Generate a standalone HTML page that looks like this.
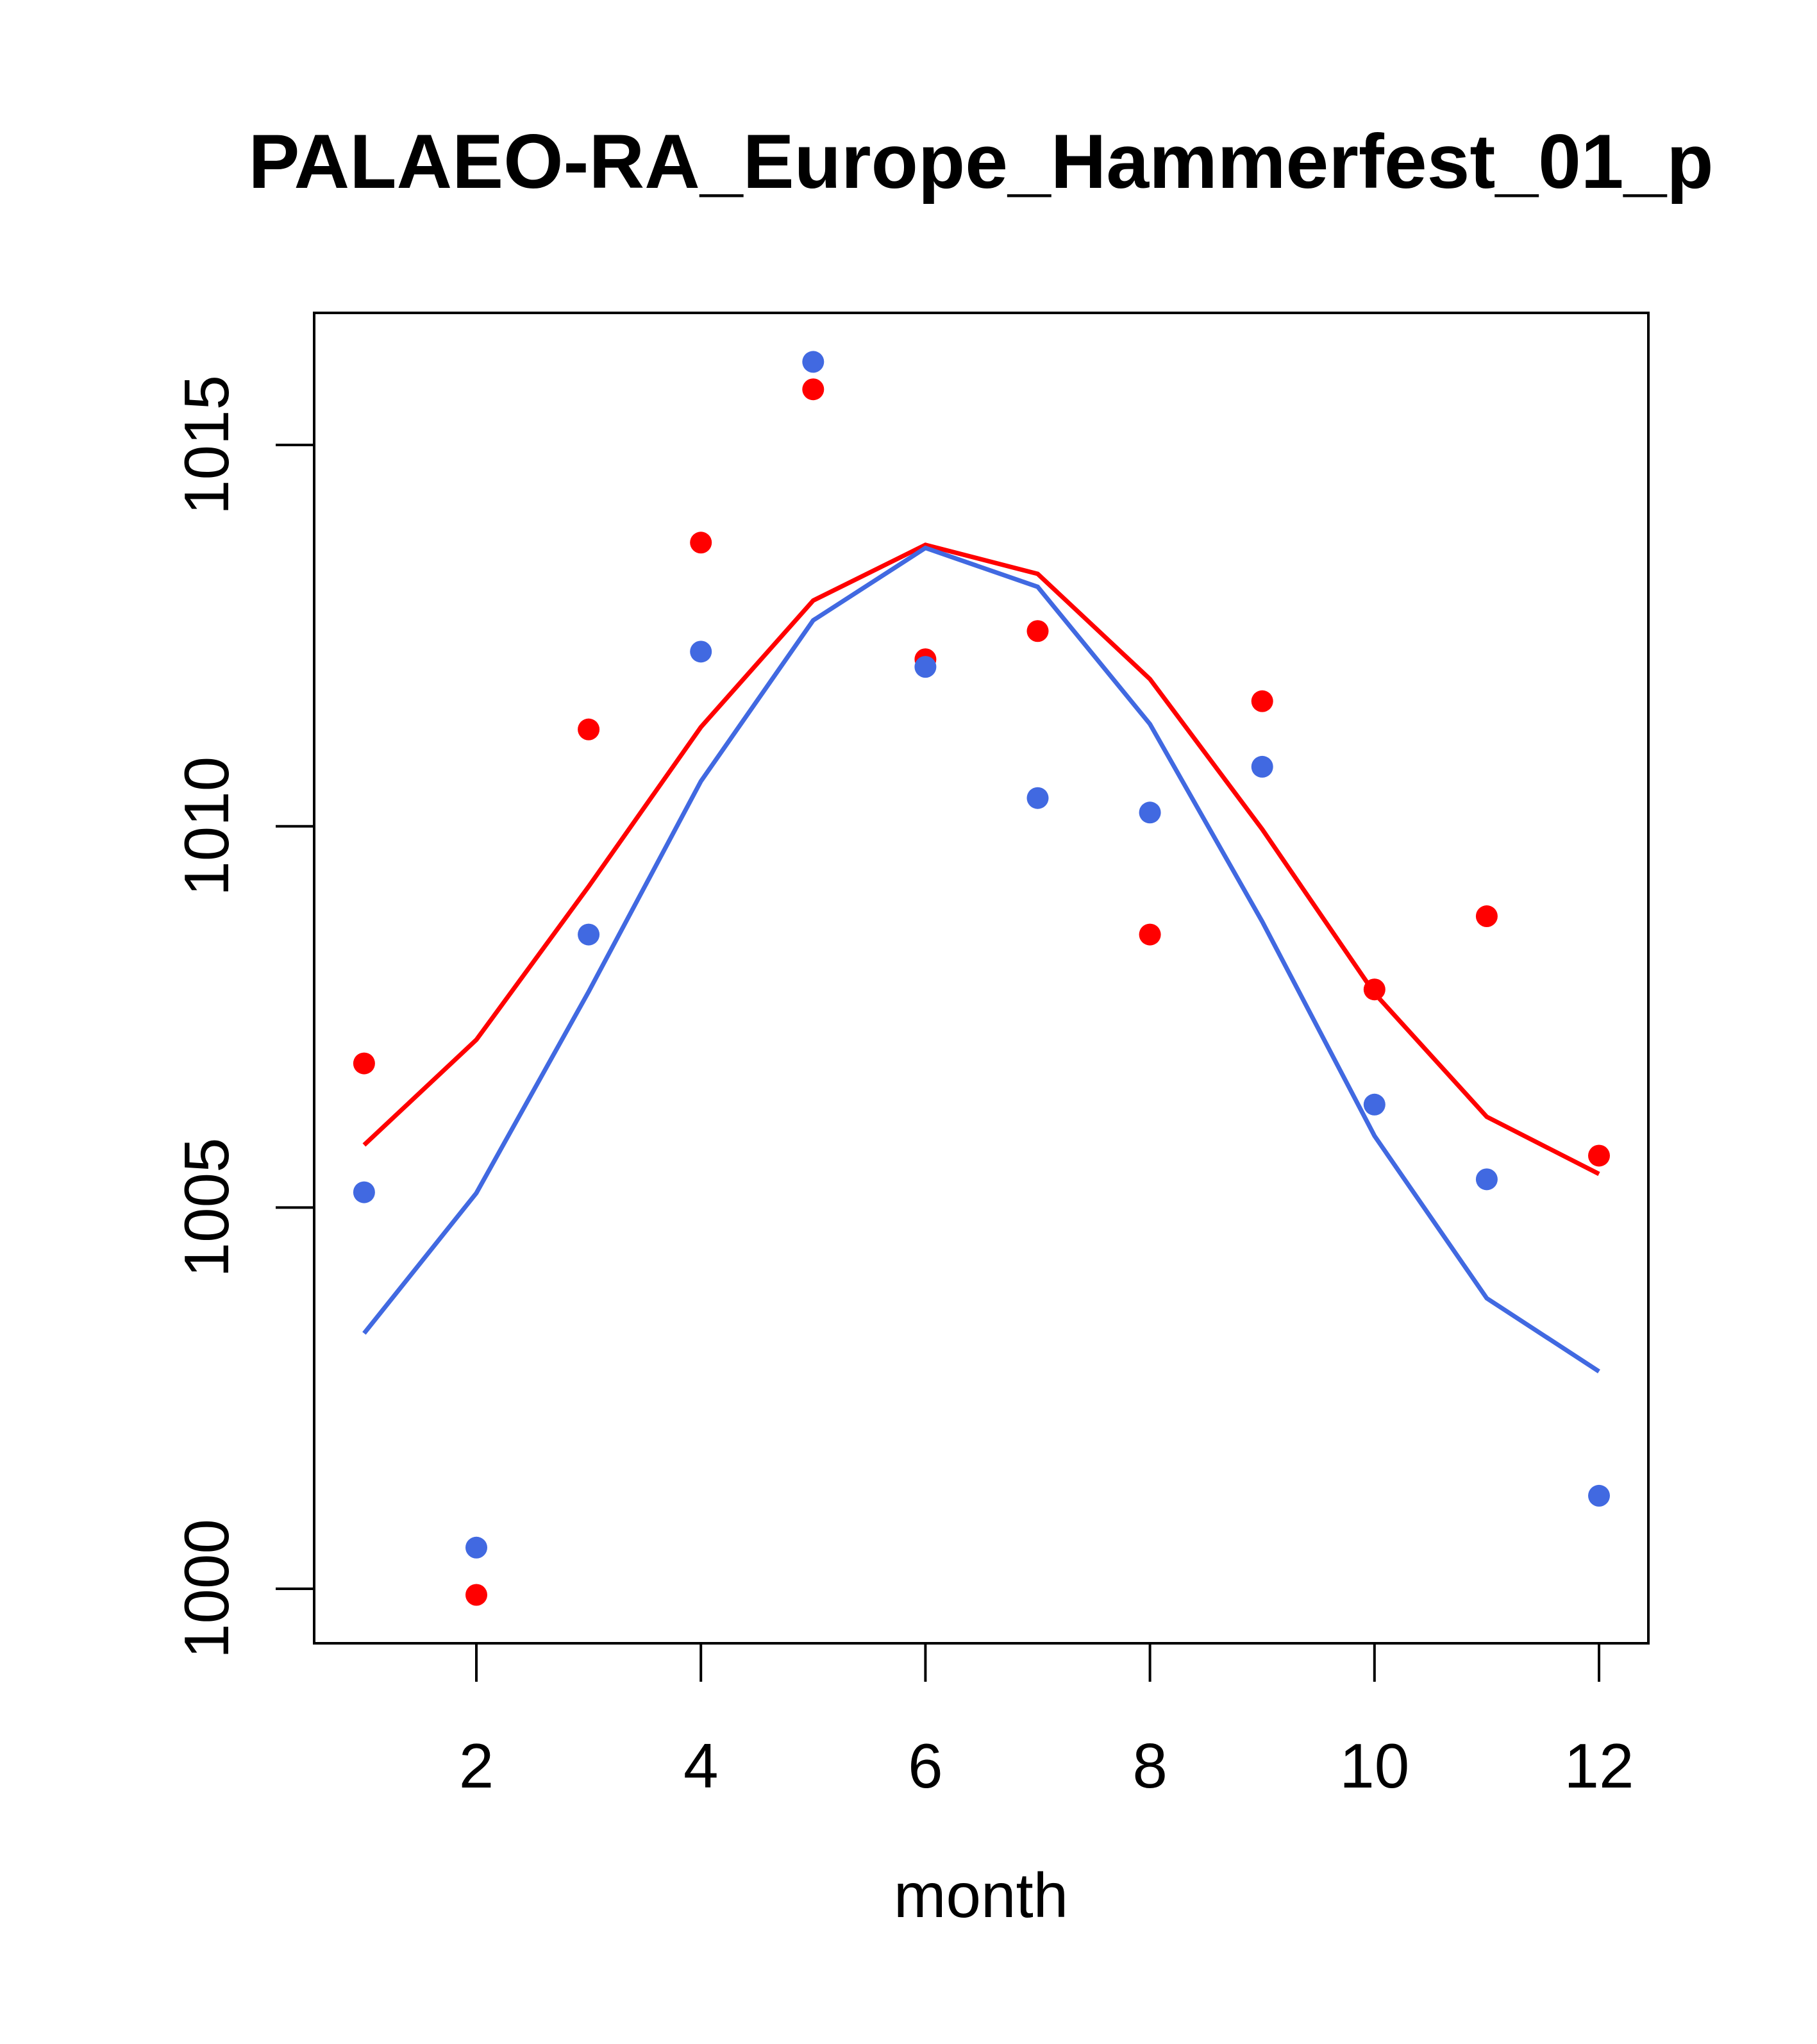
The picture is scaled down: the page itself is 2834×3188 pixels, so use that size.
<!DOCTYPE html>
<html><head><meta charset="utf-8"><style>html,body{margin:0;padding:0;background:#fff}svg{display:block}text{font-family:"Liberation Sans",Arial,sans-serif}</style></head>
<body>
<svg id="chart" width="2834" height="3188" viewBox="0 0 2834 3188" xmlns="http://www.w3.org/2000/svg">
<text x="1530" y="293" font-size="120" font-weight="bold" text-anchor="middle">PALAEO-RA_Europe_Hammerfest_01_p</text>
<rect x="490" y="488" width="2081" height="2075" fill="none" stroke="#000" stroke-width="4"/>
<text x="1530" y="2990" font-size="98" text-anchor="middle">month</text>
<g id="axes"></g><g id="marks"></g>
</svg>
<script>
const months=[1,2,3,4,5,6,7,8,9,10,11,12];
const xTicks=[2,4,6,8,10,12];
const yTicks=[1000,1005,1010,1015];
const redPoints=[1006.89,999.92,1011.27,1013.72,1015.73,1012.19,1012.56,1008.58,1011.64,1007.86,1008.82,1005.68];
const bluePoints=[1005.2,1000.54,1008.58,1012.29,1016.09,1012.09,1010.37,1010.18,1010.78,1006.35,1005.37,1001.22];
const redLine=[1005.82,1007.2,1009.21,1011.3,1012.96,1013.69,1013.31,1011.93,1009.96,1007.81,1006.19,1005.44];
const blueLine=[1003.35,1005.19,1007.83,1010.59,1012.7,1013.65,1013.14,1011.34,1008.75,1005.94,1003.81,1002.85];
const NS='http://www.w3.org/2000/svg';
function xs(m){return 743+(m-2)*175.1;}
function ys(v){return 2478-(v-1000)*118.93;}
function mk(t,a,p){const e=document.createElementNS(NS,t);for(const k in a)e.setAttribute(k,a[k]);p.appendChild(e);return e;}
const ax=document.getElementById('axes'),mg=document.getElementById('marks');
xTicks.forEach(t=>{
 const l=mk('line',{x1:xs(t),x2:xs(t),y1:2563,y2:2623,stroke:'#000','stroke-width':4},ax);
 
 
 const tx=mk('text',{x:xs(t),y:2788,'font-size':98,'text-anchor':'middle'},ax);tx.textContent=t;
 
 
});
mk('line',{x1:xs(2),x2:xs(12),y1:2563,y2:2563,stroke:'#000','stroke-width':4},ax);
yTicks.forEach(t=>{
 const l=mk('line',{x1:430,x2:490,y1:ys(t),y2:ys(t),stroke:'#000','stroke-width':4},ax);
 
 
 const tx=mk('text',{x:0,y:0,'font-size':98,'text-anchor':'middle',transform:`translate(356,${ys(t)}) rotate(-90)`},ax);tx.textContent=t;
 
 
});
function line(arr,col,name){
 const p=mk('polyline',{points:arr.map((v,i)=>xs(months[i])+','+ys(v)).join(' '),fill:'none',stroke:col,'stroke-width':7},mg);
 
 
}
function pts(arr,col,name){
 arr.forEach((v,i)=>{const c=mk('circle',{cx:xs(months[i]),cy:ys(v),r:17,fill:col},mg);
 
 });
}
line(redLine,'#ff0000','red-line');
line(blueLine,'#4169e1','blue-line');
pts(redPoints,'#ff0000','red-point');
pts(bluePoints,'#4169e1','blue-point');
</script>
</body></html>
